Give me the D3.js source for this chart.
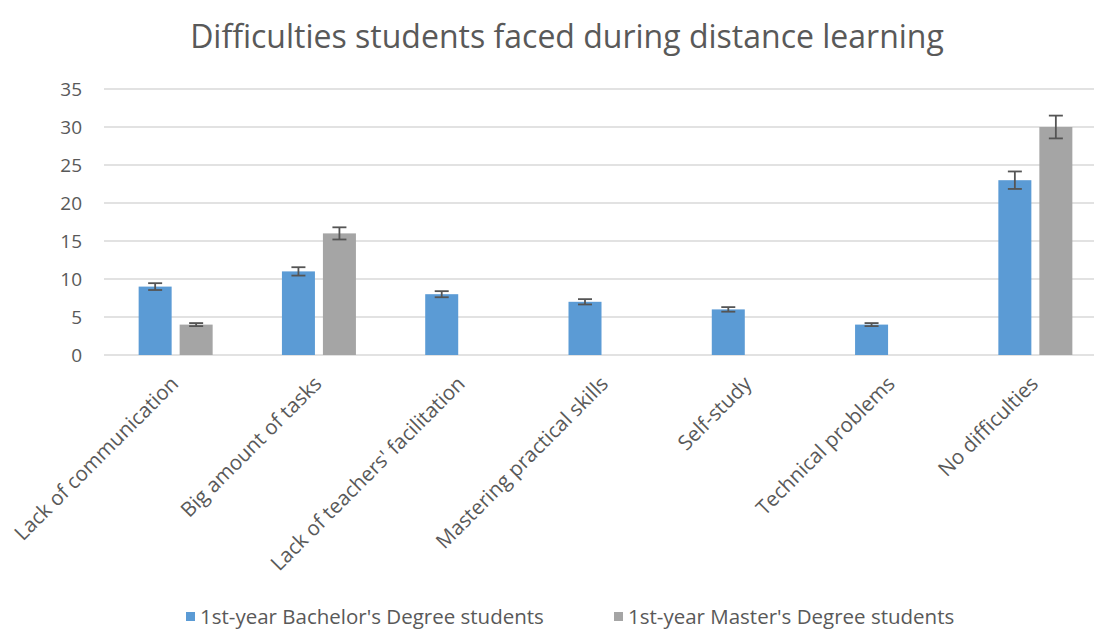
<!DOCTYPE html>
<html>
<head>
<meta charset="utf-8">
<script src="https://cdn.jsdelivr.net/npm/d3@7"></script>
<style>
  body { margin: 0; background: #fff; }
  text { font-family: "Open Sans", "Liberation Sans", sans-serif; fill: #595959; }
</style>
</head>
<body>
<svg id="chart" width="1094" height="630"></svg>
<script>
const categories = ["Lack of communication", "Big amount of tasks", "Lack of teachers' facilitation",
  "Mastering practical skills", "Self-study", "Technical problems", "No difficulties"];
const seriesNames = ["1st-year Bachelor's Degree students", "1st-year Master's Degree students"];
const bachelor = [9, 11, 8, 7, 6, 4, 23];
const master = [4, 16, 0, 0, 0, 0, 30];
const bachelorErr = [0.45, 0.55, 0.4, 0.35, 0.3, 0.2, 1.15];
const masterErr = [0.2, 0.8, 0, 0, 0, 0, 1.5];
const yTicks = [0, 5, 10, 15, 20, 25, 30, 35];
const colors = ["#5B9BD5", "#A5A5A5"];

const svg = d3.select("#chart");
const margin = { top: 89, left: 104, bottom: 275 };
const plotRight = 1107;
const height = 630 - margin.top - margin.bottom;

const x = d3.scaleBand().domain(categories).range([margin.left, plotRight]).padding(0);
const x1 = d3.scaleBand().domain([0, 1]).range([0, x.bandwidth()]).paddingInner(0.195).paddingOuter(0.845);
const y = d3.scaleLinear().domain([0, 35]).range([margin.top + height, margin.top]);

// title
svg.append("text")
  .attr("x", 567)
  .attr("y", 48)
  .attr("text-anchor", "middle")
  .style("font-size", "32px")
  .text("Difficulties students faced during distance learning");

// gridlines
svg.append("g")
  .selectAll("line")
  .data(yTicks)
  .enter()
  .append("line")
  .attr("x1", margin.left)
  .attr("x2", plotRight)
  .attr("y1", d => y(d))
  .attr("y2", d => y(d))
  .attr("stroke", "#D9D9D9")
  .attr("stroke-width", 1.5);

// y axis labels
const yAxis = svg.append("g")
  .attr("transform", `translate(${margin.left - 14},0)`)
  .call(d3.axisLeft(y).tickValues(yTicks).tickSize(0).tickPadding(8));
yAxis.select(".domain").remove();
yAxis.selectAll("text").style("font-size", "19px").style("fill", "#595959")
  .style("font-family", "\"Open Sans\", sans-serif");

const groups = [bachelor, master];
const errs = [bachelorErr, masterErr];

groups.forEach((vals, s) => {
  const g = svg.append("g");
  const data = categories.map((c, i) => ({ c, v: vals[i], e: errs[s][i] })).filter(d => d.v > 0);

  g.selectAll("rect")
    .data(data)
    .enter()
    .append("rect")
    .attr("x", d => x(d.c) + x1(s))
    .attr("y", d => y(d.v))
    .attr("width", x1.bandwidth())
    .attr("height", d => y(0) - y(d.v))
    .attr("fill", colors[s]);

  // error bars
  const eb = g.selectAll(".err")
    .data(data)
    .enter()
    .append("g")
    .attr("stroke", "#555")
    .attr("stroke-width", 1.8);
  const cx = d => x(d.c) + x1(s) + x1.bandwidth() / 2;
  eb.append("line")
    .attr("x1", cx).attr("x2", cx)
    .attr("y1", d => y(d.v + d.e)).attr("y2", d => y(d.v - d.e));
  eb.append("line")
    .attr("x1", d => cx(d) - 7).attr("x2", d => cx(d) + 7)
    .attr("y1", d => y(d.v + d.e)).attr("y2", d => y(d.v + d.e));
  eb.append("line")
    .attr("x1", d => cx(d) - 7).attr("x2", d => cx(d) + 7)
    .attr("y1", d => y(d.v - d.e)).attr("y2", d => y(d.v - d.e));
});

// category labels
svg.append("g")
  .selectAll("text")
  .data(categories)
  .enter()
  .append("text")
  .attr("transform", d => `translate(${x(d) + x.bandwidth() / 2 + 4},${y(0) + 30}) rotate(-45)`)
  .attr("text-anchor", "end")
  .style("font-size", "20.5px")
  .text(d => d);

// legend
const legendPos = [186, 614];
const legend = svg.append("g")
  .selectAll("g")
  .data(seriesNames)
  .enter()
  .append("g")
  .attr("transform", (d, i) => `translate(${legendPos[i]},617)`);
legend.append("rect")
  .attr("x", 0).attr("y", -5)
  .attr("width", 9).attr("height", 9)
  .attr("fill", (d, i) => colors[i]);
legend.append("text")
  .attr("x", 14)
  .attr("y", 7)
  .style("font-size", "20.5px")
  .text(d => d);
</script>
</body>
</html>
